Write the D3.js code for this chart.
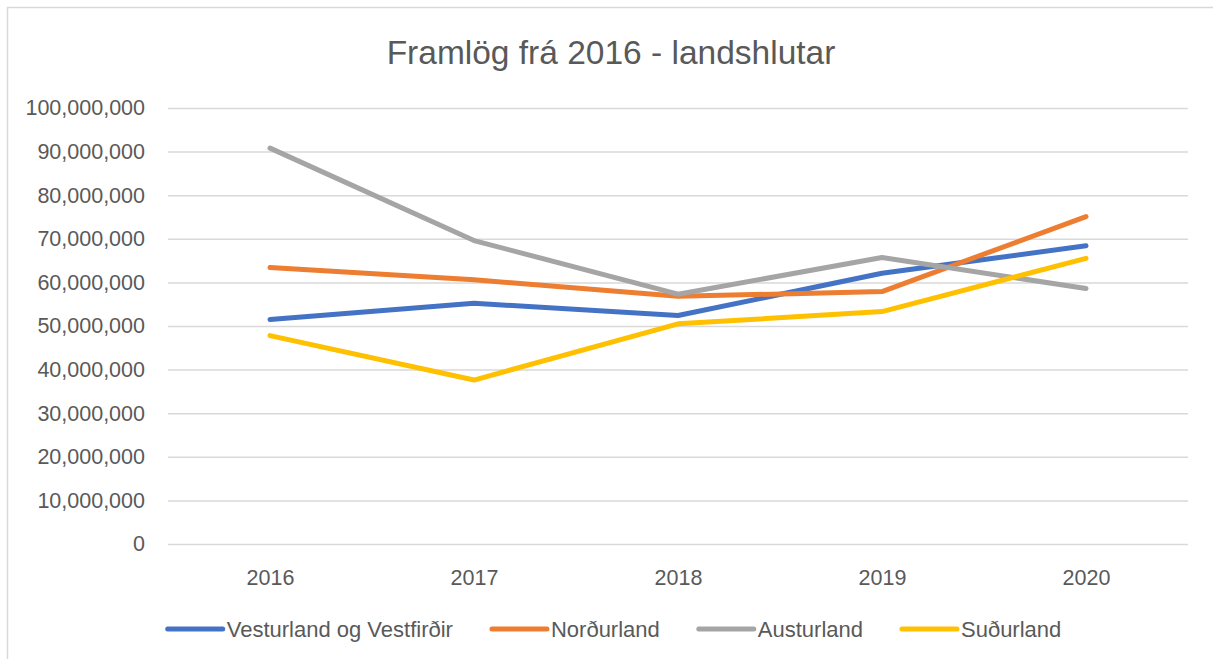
<!DOCTYPE html>
<html>
<head>
<meta charset="utf-8">
<script src="https://cdn.jsdelivr.net/npm/d3@7"></script>
<style>
  html, body { margin: 0; padding: 0; background: #ffffff; }
  svg { display: block; }
  text { font-family: "Liberation Sans", Arial, sans-serif; fill: #595959; }
</style>
</head>
<body>
<svg id="chart" width="1213" height="659"></svg>
<script>
const title = "Framlög frá 2016 - landshlutar";
const years = ["2016", "2017", "2018", "2019", "2020"];
const yTicks = [0, 10000000, 20000000, 30000000, 40000000, 50000000, 60000000, 70000000, 80000000, 90000000, 100000000];
const seriesNames = ["Vesturland og Vestfirðir", "Norðurland", "Austurland", "Suðurland"];
const vesturland = [51500000, 55200000, 52400000, 62100000, 68400000];
const nordurland = [63400000, 60600000, 56800000, 57900000, 75100000];
const austurland = [90800000, 69600000, 57300000, 65700000, 58600000];
const sudurland  = [47800000, 37600000, 50500000, 53300000, 65500000];
const seriesColors = ["#4472C4", "#ED7D31", "#A5A5A5", "#FFC000"];

const seriesValues = [vesturland, nordurland, austurland, sudurland];
const series = seriesNames.map((name, i) => ({ name, color: seriesColors[i], values: seriesValues[i] }));

const svg = d3.select("#chart");
const W = 1213, H = 659;
const plot = { left: 168, right: 1188, top: 108, bottom: 544 };

// chart frame
svg.append("rect")
  .attr("x", 7.5).attr("y", 7.5)
  .attr("width", W + 20).attr("height", H + 20)
  .attr("fill", "#ffffff").attr("stroke", "#d9d9d9").attr("stroke-width", 1.5);

// title
svg.append("text")
  .attr("x", 611).attr("y", 64)
  .attr("text-anchor", "middle")
  .style("font-size", "33.5px")
  .text(title);

const x = d3.scalePoint().domain(years).range([plot.left, plot.right]).padding(0.5);
const y = d3.scaleLinear().domain([0, 100000000]).range([plot.bottom, plot.top]);

// y axis with gridlines
const yAxis = d3.axisLeft(y)
  .tickValues(yTicks)
  .tickFormat(d3.format(","))
  .tickSize(-(plot.right - plot.left))
  .tickPadding(23);

const gy = svg.append("g").attr("transform", `translate(${plot.left},0)`).call(yAxis);
gy.select(".domain").remove();
gy.selectAll(".tick line").attr("stroke", "#d9d9d9").attr("stroke-width", 1.5);
gy.selectAll(".tick text")
  .style("font-size", "21.5px")
  .attr("fill", "#595959")
  .style("font-family", "'Liberation Sans', Arial, sans-serif");

// x axis labels
const xAxis = d3.axisBottom(x).tickSize(0).tickPadding(26);
const gx = svg.append("g").attr("transform", `translate(0,${plot.bottom})`).call(xAxis);
gx.select(".domain").remove();
gx.selectAll(".tick text")
  .style("font-size", "21.5px")
  .attr("fill", "#595959")
  .style("font-family", "'Liberation Sans', Arial, sans-serif");

// lines
const line = d3.line()
  .x((d, i) => x(years[i]))
  .y(d => y(d));

svg.append("g").selectAll("path")
  .data(series)
  .join("path")
  .attr("d", d => line(d.values))
  .attr("fill", "none")
  .attr("stroke", d => d.color)
  .attr("stroke-width", 5)
  .attr("stroke-linecap", "round")
  .attr("stroke-linejoin", "round");

// legend
const legendY = 629;
const sampleLen = 55, sampleGap = 4, itemGap = 39;
const lg = svg.append("g");
const items = lg.selectAll("g.item").data(series).join("g").attr("class", "item");
items.append("line")
  .attr("x1", 0).attr("x2", sampleLen)
  .attr("y1", 0).attr("y2", 0)
  .attr("stroke", d => d.color)
  .attr("stroke-width", 5)
  .attr("stroke-linecap", "round");
items.append("text")
  .attr("x", sampleLen + sampleGap)
  .attr("y", 0)
  .attr("dy", "0.35em")
  .style("font-size", "22px")
  .text(d => d.name);

let offset = 0;
const widths = [];
items.each(function() {
  const tw = d3.select(this).select("text").node().getComputedTextLength();
  widths.push(sampleLen + sampleGap + tw);
});
const total = d3.sum(widths) + itemGap * (widths.length - 1);
const startX = 614.5 - total / 2;
items.attr("transform", (d, i) => {
  const tx = startX + offset;
  offset += widths[i] + itemGap;
  return `translate(${tx},${legendY})`;
});
</script>
</body>
</html>
